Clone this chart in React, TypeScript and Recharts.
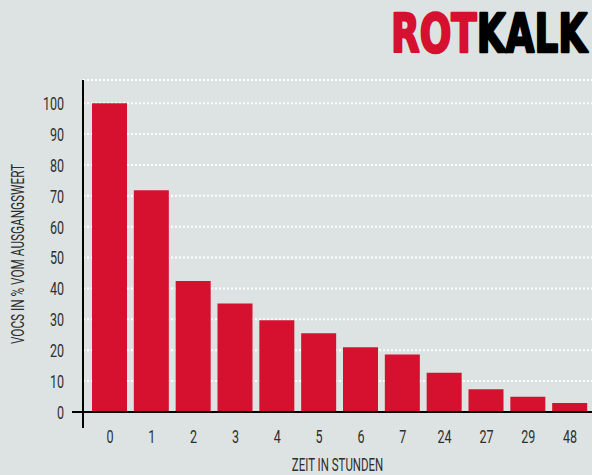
import React from 'react';
import { BarChart, Bar, XAxis, YAxis, CartesianGrid } from 'recharts';

const categories = ['0', '1', '2', '3', '4', '5', '6', '7', '24', '27', '29', '48'];
const values = [100, 71.8, 42.4, 35.1, 29.7, 25.5, 21, 18.6, 12.7, 7.4, 4.9, 2.9];
const yTicks = [0, 10, 20, 30, 40, 50, 60, 70, 80, 90, 100];
const xTitle = 'ZEIT IN STUNDEN';
const yTitle = 'VOCS IN % VOM AUSGANGSWERT';
const logoRed = 'ROT';
const logoBlack = 'KALK';

const data = categories.map((c, i) => ({ hour: c, value: values[i] }));

const FONT = 'Roboto, "DejaVu Sans", sans-serif';
const TEXT = '#2e2e2e';
const RED = '#d6102f';
const SQUEEZE = 0.66;
const TICK_MARGIN_Y = 19;

const XTick = (props: any) => {
  const { x, y, payload } = props;
  return (
    <g transform={`translate(${x},${y})`}>
      <text
        transform={`scale(${SQUEEZE},1)`}
        textAnchor="middle"
        dy="0.72em"
        fill={TEXT}
        fontFamily={FONT}
        fontWeight={400}
        fontSize={19}
      >
        {payload.value}
      </text>
    </g>
  );
};

const YTick = (props: any) => {
  const { x, y, payload } = props;
  const axisX = x + TICK_MARGIN_Y;
  return (
    <g>
      {payload.value === 0 && (
        <g>
          <line x1={axisX - 11} y1={y} x2={axisX} y2={y} stroke="#000" strokeWidth={2} />
          <line x1={axisX} y1={y} x2={axisX} y2={y + 16} stroke="#000" strokeWidth={2} />
        </g>
      )}
      <g transform={`translate(${x},${y})`}>
        <text
          transform={`scale(${SQUEEZE},1)`}
          textAnchor="end"
          dy="0.36em"
          fill={TEXT}
          fontFamily={FONT}
          fontWeight={400}
          fontSize={19}
        >
          {payload.value}
        </text>
      </g>
    </g>
  );
};

const YLabel = (props: any) => {
  const vb = props.viewBox || {};
  const cx = 24;
  const cy = vb.y + vb.height / 2 + 8;
  return (
    <g transform={`translate(${cx},${cy}) rotate(-90) scale(0.62,1)`}>
      <text
        x={0}
        y={0}
        textAnchor="middle"
        fill={TEXT}
        fontFamily={FONT}
        fontWeight={400}
        fontSize={19}
      >
        {yTitle}
      </text>
    </g>
  );
};

const XLabel = (props: any) => {
  const vb = props.viewBox || {};
  const cx = vb.x + vb.width / 2;
  const cy = 471;
  return (
    <g transform={`translate(${cx},${cy}) scale(0.62,1)`}>
      <text
        x={0}
        y={0}
        textAnchor="middle"
        fill={TEXT}
        fontFamily={FONT}
        fontWeight={400}
        fontSize={18.5}
      >
        {xTitle}
      </text>
    </g>
  );
};

export default function App() {
  return (
    <div
      style={{
        position: 'absolute',
        left: 0,
        top: 0,
        width: 592,
        height: 475,
        background: '#dde3e3',
        overflow: 'hidden',
      }}
    >
      <svg
        width={592}
        height={70}
        style={{ position: 'absolute', left: 0, top: 0 }}
      >
        <text
          x={391}
          y={52}
          strokeWidth={2.5}
          strokeLinejoin="round"
          fontFamily='"DejaVu Sans", sans-serif'
          fontWeight={900}
          fontSize={53}
          textLength={196}
          lengthAdjust="spacingAndGlyphs"
        >
          <tspan fill={RED} stroke={RED}>{logoRed}</tspan>
          <tspan fill="#000000" stroke="#000000">{logoBlack}</tspan>
        </text>
      </svg>
      <BarChart
        width={592}
        height={475}
        data={data}
        margin={{ top: 80, right: 0, left: 0, bottom: 0 }}
        style={{ position: 'absolute', left: 0, top: 0 }}
      >
        <CartesianGrid
          vertical={false}
          stroke="#ffffff"
          strokeWidth={2}
          strokeDasharray="2 2"
        />
        <XAxis
          dataKey="hour"
          height={63}
          padding={{ left: 6, right: 1 }}
          tickSize={0}
          tickMargin={17}
          axisLine={{ stroke: '#000000', strokeWidth: 2 }}
          tick={<XTick />}
          interval={0}
          label={<XLabel />}
        />
        <YAxis
          width={83}
          domain={[0, 107.5]}
          ticks={yTicks}
          interval={0}
          tickSize={0}
          tickMargin={TICK_MARGIN_Y}
          axisLine={{ stroke: '#000000', strokeWidth: 2 }}
          tick={<YTick />}
          label={<YLabel />}
        />
        <Bar dataKey="value" fill={RED} barSize={35} isAnimationActive={false} />
      </BarChart>
    </div>
  );
}
